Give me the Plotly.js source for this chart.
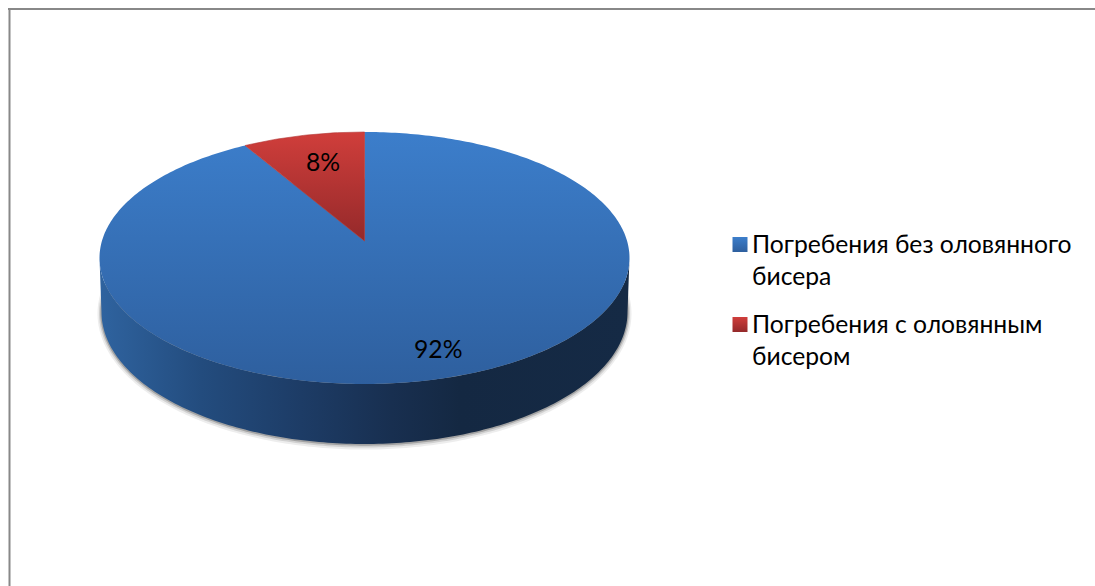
<!DOCTYPE html>
<html><head><meta charset="utf-8">
<script src="https://cdn.plot.ly/plotly-3.0.1.min.js"></script>
<style>html,body{margin:0;padding:0;background:#fff}#c{width:1095px;height:586px}</style>
</head><body><div id="c"></div>
<script>
const categories = ['Погребения без оловянного бисера', 'Погребения с оловянным бисером'];
const shares = [92, 8];
const legendLines = [['Погребения без оловянного', 'бисера'], ['Погребения с оловянным', 'бисером']];
const topColors = [['#3c7ecb', '#2e5f9e'], ['#d03e3b', '#94292a']];
const seamColors = ['#3670b4', '#b23432'];

// picture geometry, in screen pixels (the axes map 1:1 to the window)
const W = 1095, H = 586, FONT = 'Lato, Carlito, "Open Sans", sans-serif', FS = 24.7;
const cx = 364.5, cy = 258, rx = 265, ry = 126, apexY = 241, warp = 0.076;
const baseCx = 364.5, baseCy = 312, baseRx = 263, baseRy = 132;

const total = shares.reduce((a, b) => a + b, 0);
function warpAngle(t) { // foreshortening of the tilted disc
  const c = Math.cos(t), s = Math.sin(t), d = 1 + warp * c;
  return Math.atan2(s * Math.sqrt(1 - warp * warp) / d, (c + warp) / d);
}
function rim(t) { const a = warpAngle(t); return [cx + rx * Math.sin(a), cy - ry * Math.cos(a)]; }
function arc(f0, f1, fn, n) {
  const out = [];
  for (let i = 0; i <= n; i++) out.push(fn(2 * Math.PI * (f0 + (f1 - f0) * i / n)));
  return out;
}
const traces = [];
// soft shadow under the drum
[[4, 0.07], [2.5, 0.12], [1.2, 0.22]].forEach(([g, a]) => {
  const p = [];
  for (let i = 0; i <= 360; i++) {
    const t = i * Math.PI / 180;
    p.push([baseCx + (baseRx + g) * Math.sin(t), baseCy + g * 0.4 - (baseRy + g) * Math.cos(t)]);
  }
  traces.push({type: 'scatter', mode: 'none', x: p.map(q => q[0]), y: p.map(q => q[1]), fill: 'toself',
    fillcolor: `rgba(0,0,0,${a})`, hoverinfo: 'skip', showlegend: false});
});
// side wall
(function () {
  const xs = [], ys = [];
  for (let i = 270; i >= 90; i--) { const t = i * Math.PI / 180; xs.push(cx + rx * Math.sin(t)); ys.push(cy - ry * Math.cos(t)); }
  for (let i = 90; i <= 270; i++) { const t = i * Math.PI / 180; xs.push(baseCx + baseRx * Math.sin(t)); ys.push(baseCy - baseRy * Math.cos(t)); }
  traces.push({type: 'scatter', mode: 'none', x: xs, y: ys, fill: 'toself', hoverinfo: 'skip', showlegend: false,
    fillcolor: '#1d3c66',
    fillgradient: {type: 'horizontal', start: 100, stop: 630, colorscale: [
      [0, '#2f639f'], [0.19, '#234c7e'], [0.38, '#1d3c66'], [0.55, '#182f50'], [0.68, '#142842'], [1, '#152a45']]}});
})();
// top face slices
let acc = 0;
shares.forEach((v, i) => {
  const f0 = acc / total, f1 = (acc + v) / total; acc += v;
  const pts = [[cx, apexY]].concat(arc(f0, f1, rim, Math.max(8, Math.round(v * 4)))).concat([[cx, apexY]]);
  const big = v > 50;
  traces.push({type: 'scatter', mode: big ? 'none' : 'lines', name: categories[i], x: pts.map(q => q[0]), y: pts.map(q => q[1]),
    line: {color: seamColors[i], width: 0.6},
    fill: 'toself', fillcolor: topColors[i][0], hoverinfo: 'skip', showlegend: false,
    fillgradient: {type: 'vertical', start: cy - ry, stop: big ? cy + ry : apexY,
      colorscale: [[0, topColors[i][0]], [1, topColors[i][1]]]}});
});
// legend swatches
const swatchX = 740, swatchY = [244.5, 324.5];
shares.forEach((v, i) => traces.push({type: 'scatter', mode: 'markers', x: [swatchX], y: [swatchY[i]], hoverinfo: 'skip', showlegend: false,
  marker: {symbol: 'square', size: 15, color: topColors[i][0], line: {width: 0},
    gradient: {type: 'vertical', color: topColors[i][1]}}}));

const valuePos = [[438, 348], [323, 161]];
const annotations = shares.map((v, i) => ({xref: 'x', yref: 'y', x: valuePos[i][0], y: valuePos[i][1], text: v + '%', showarrow: false,
  font: {family: FONT, size: FS, color: '#000'}, xanchor: 'center', yanchor: 'middle'}));
const lineY = [[243, 275], [323, 355]];
legendLines.forEach((ls, i) => ls.forEach((s, j) => annotations.push({xref: 'x', yref: 'y', x: 754, y: lineY[i][j], text: s, showarrow: false,
  font: {family: FONT, size: FS, color: '#000'}, xanchor: 'left', yanchor: 'middle', xshift: -4})));

const hidden = {visible: false, fixedrange: true, autorange: false};
Plotly.newPlot('c', traces, {
  width: W, height: H, margin: {l: 0, r: 0, t: 0, b: 0}, paper_bgcolor: '#fff', plot_bgcolor: '#fff', showlegend: false,
  xaxis: Object.assign({range: [0, W], domain: [0, 1]}, hidden),
  yaxis: Object.assign({range: [H, 0], domain: [0, 1]}, hidden),
  annotations,
  shapes: [
    {type: 'line', xref: 'x', yref: 'y', x0: 8, x1: W, y0: 9, y1: 9, line: {color: '#888888', width: 2}},
    {type: 'line', xref: 'x', yref: 'y', x0: 9.5, x1: 9.5, y0: 8, y1: H, line: {color: '#888888', width: 2}}
  ]
}, {displayModeBar: false, staticPlot: true});
</script></body></html>
